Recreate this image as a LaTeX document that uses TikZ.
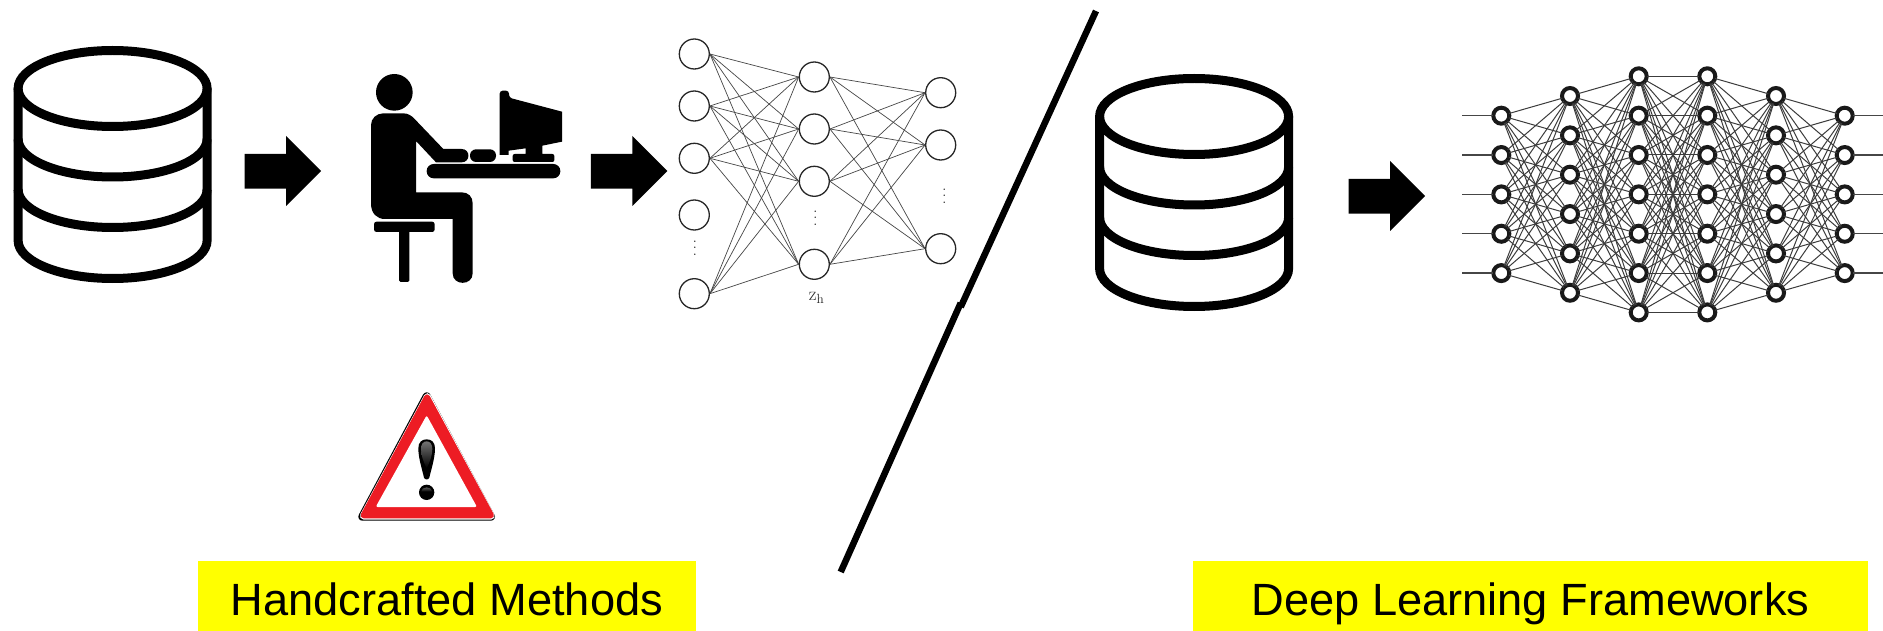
\documentclass[tikz,border=0pt]{standalone}
\usepackage{fontspec}
\setsansfont{Liberation Sans}
\definecolor{labelyellow}{RGB}{255,255,0}
\definecolor{signred}{RGB}{237,28,36}
\definecolor{wiregray}{RGB}{70,70,70}
\definecolor{deepink}{RGB}{25,25,25}
\tikzset{
  dbicon/.pic={
    \draw[line width=9pt,black] (112.6,88.5) ellipse[x radius=94.5,y radius=38];
    \draw[line width=9pt,black] (18.1,88.5) -- (18.1,240.5)
       .. controls (18.1,261.5) and (60.4,278.5) .. (112.6,278.5)
       .. controls (164.8,278.5) and (207.1,261.5) .. (207.1,240.5) -- (207.1,88.5);
    \foreach \yy in {139,189.5}
      \draw[line width=9pt,black] (18.1,\yy)
       .. controls (18.1,\yy+21) and (60.4,\yy+38) .. (112.6,\yy+38)
       .. controls (164.8,\yy+38) and (207.1,\yy+21) .. (207.1,\yy);
  },
  blockarrow/.pic={
    \fill[black] (244.5,154) -- (286,154) -- (286,136) -- (321,171) -- (286,206) -- (286,188.7) -- (244.5,188.7) -- cycle;
  },
  shallownode/.style={circle,draw=black!85,line width=1.3pt,fill=white,minimum size=30pt,inner sep=0pt},
  shallowedge/.style={draw=wiregray,line width=0.7pt},
  deepnode/.style={circle,draw=deepink,line width=4pt,fill=white,minimum size=16pt,inner sep=0pt,outer sep=0pt},
  deepedge/.style={draw=deepink!85!white,line width=1pt},
  stubedge/.style={draw=wiregray,line width=1.2pt},
  labelbox/.style={fill=labelyellow,font=\sffamily\fontsize{45.2}{54}\selectfont,text=black,
     inner sep=0pt,text height=54pt,text depth=16pt,align=center},
  dotsnode/.style={inner sep=0pt,align=center,font=\fontsize{18}{6.6}\selectfont,text=black!85},
  slashline/.style={draw=black,line width=6.5pt}
}
\begin{document}
\begin{tikzpicture}[x=1pt,y=-1pt]
\useasboundingbox[fill=white] (0,0) rectangle (1883,631);

% databases and arrows
\pic at (0,0) {dbicon};
\pic at (1081.5,28) {dbicon};
\pic at (0,0) {blockarrow};
\pic at (346.4,0) {blockarrow};
\pic at (1104,25) {blockarrow};

% person at computer
\begin{scope}[shift={(350pt,-60pt)},x=0.33333pt,y=-0.33333pt]
  \fill[black] (133,97) circle[radius=55];
  \fill[black] (63,195) .. controls (63,175) and (80,160) .. (100,160) -- (160,160)
     .. controls (175,160) and (185,168) .. (192,175) -- (280,267) -- (335,267)
     .. controls (362,267) and (362,307) .. (335,307) -- (258,307) -- (198,243) -- (198,397) -- (335,397)
     .. controls (355,397) and (368,410) .. (368,430) -- (368,640)
     .. controls (368,678) and (308,678) .. (308,640) -- (308,477) -- (105,477)
     .. controls (80,477) and (63,460) .. (63,430) -- cycle;
  \fill[black,rounded corners=2.5pt] (72,485) rectangle (254,516);
  \fill[black,rounded corners=1.5pt] (147,510) rectangle (178,666);
  \fill[black,rounded corners=7pt] (230,312) rectangle (631,355);
  \fill[black,rounded corners=6pt] (360,268) rectangle (438,306);
  \fill[black,rounded corners=3pt] (449,285) -- (449,92) -- (477,92) -- (477,113) [sharp corners] -- (636,155) -- (636,245)
     -- (577,257) -- (577,282) [rounded corners=2pt] -- (613,282) -- (613,306) -- (488,306) -- (488,282) [sharp corners] -- (527,282) -- (527,265) -- (476,272) -- (476,285) -- cycle;
\end{scope}

% shallow network
\foreach \nm/\yy in {1/54,2/106,3/158.3,4/215,5/293.7}
  \node[shallownode] (L\nm) at (694.3,\yy) {};
\foreach \nm/\yy in {1/77,2/129,3/181.3,4/264.3}
  \node[shallownode] (M\nm) at (814.3,\yy) {};
\foreach \nm/\yy in {1/92.7,2/145,3/248.7}
  \node[shallownode] (R\nm) at (940.7,\yy) {};
\foreach \a in {1,2,3,5}
  \foreach \b in {1,2,3,4}
    \draw[shallowedge] (L\a.east) -- (M\b.west);
\foreach \a in {1,2,3,4}
  \foreach \b in {1,2,3}
    \draw[shallowedge] (M\a.east) -- (R\b.west);
\node[dotsnode] (dotsL) at (694.8,248) {.\\.\\.};
\node[dotsnode] (dotsM) at (815.3,218) {.\\.\\.};
\node[dotsnode] (dotsR) at (944.3,196) {.\\.\\.};
\node[inner sep=0pt,font=\fontsize{19}{21}\selectfont,text=black!85] (zh) at (816.7,298) {z\textsubscript{h}};

% slash
\coordinate (slashA) at (1096,11);
\coordinate (slashB) at (960.7,307);
\coordinate (slashC) at (960.7,303);
\coordinate (slashD) at (840.7,572);
\draw[slashline] (slashA) -- (slashB);
\draw[slashline] (slashC) -- (slashD);

% deep network
\foreach \cc/\xx/\nn/\ys in {1/1501.3/5/115.7,2/1570/6/96,3/1638.7/7/76.3,4/1707.3/7/76.3,5/1776/6/96,6/1844.7/5/115.7}
  \foreach \rr in {1,...,\nn}
    \node[deepnode] (d\cc-\rr) at (\xx,{\ys+(\rr-1)*39.35}) {};
\foreach \ca/\na/\cb/\nb in {1/5/2/6,2/6/3/7,3/7/4/7,4/7/5/6,5/6/6/5}
  \foreach \ra in {1,...,\na}
    \foreach \rb in {1,...,\nb}
      \draw[deepedge] (d\ca-\ra) -- (d\cb-\rb);
\foreach \rr in {1,...,5} {
  \path (d1-\rr) ++(-39.3,0) coordinate (stubL\rr);
  \path (d6-\rr) ++(38.3,0) coordinate (stubR\rr);
  \draw[stubedge] (stubL\rr) -- (d1-\rr);
  \draw[stubedge] (d6-\rr) -- (stubR\rr);
}

% warning sign
\begin{scope}[shift={(340pt,-380pt)},x=0.33333pt,y=-0.33333pt]
  \draw[black,fill=black,line width=8pt,line join=round] (260,49) -- (67,410) -- (453,410) -- cycle;
  \draw[white,fill=white,line width=7pt,line join=round] (262,50) -- (70,408) -- (454,408) -- cycle;
  \draw[signred,fill=signred,line width=6pt,line join=round] (261,52) -- (71,406) -- (453,406) -- cycle;
  \fill[white,rounded corners=2pt] (260,106) -- (107,381) -- (411,381) -- cycle;
  \fill[black] (260,178) .. controls (246,178) and (235,186) .. (235,205)
     .. controls (235,235) and (247,270) .. (252,293) .. controls (254,300) and (266,300) .. (268,293)
     .. controls (273,270) and (285,235) .. (285,205) .. controls (285,186) and (274,178) .. (260,178) -- cycle;
  \shade[top color=black!55,bottom color=black] (260,184) .. controls (250,184) and (243,192) .. (243,207)
     .. controls (243,225) and (250,245) .. (260,265) .. controls (270,245) and (277,225) .. (277,207)
     .. controls (277,192) and (270,184) .. (260,184) -- cycle;
  \fill[black] (260,337) circle[radius=23];
  \shade[top color=black!55,bottom color=black] (243,335) .. controls (245,318) and (275,318) .. (277,335) -- cycle;
\end{scope}

% labels
\node[labelbox,minimum width=498pt] (hand) at (447,596) {Handcrafted Methods};
\node[labelbox,minimum width=675pt] (deep) at (1530.5,596) {Deep Learning Frameworks};
\end{tikzpicture}
\end{document}
